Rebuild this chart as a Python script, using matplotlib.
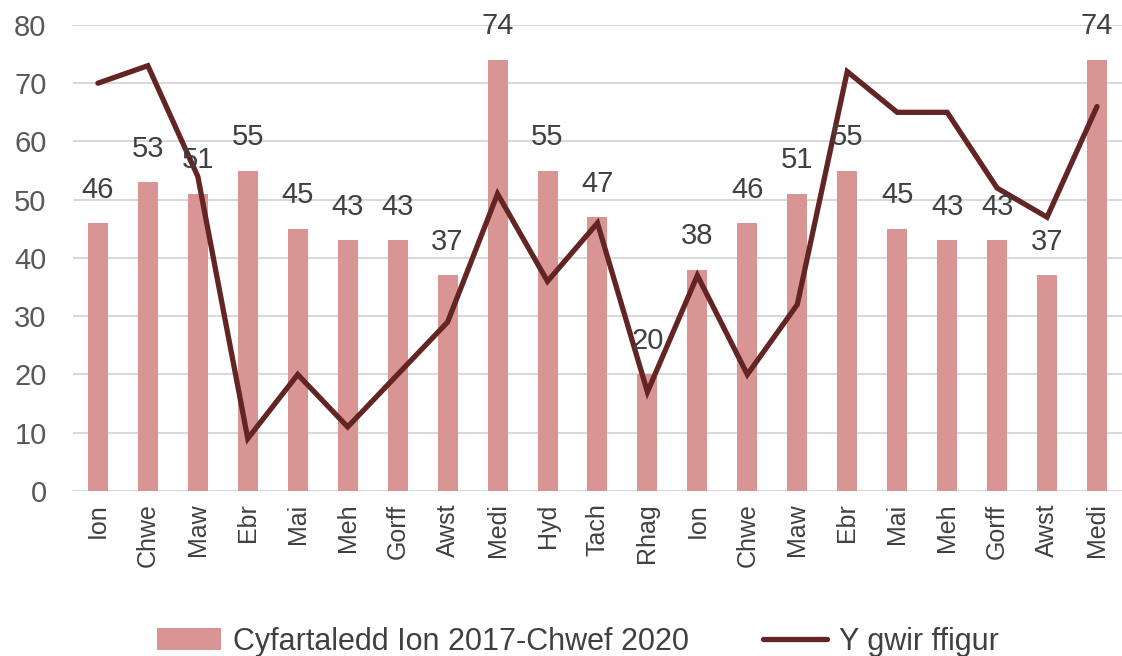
import matplotlib
matplotlib.use("Agg")
import matplotlib.pyplot as plt
from matplotlib.patches import Patch
from matplotlib.lines import Line2D
import numpy as np

plt.rcParams['font.family'] = ['Liberation Sans', 'DejaVu Sans']

categories = ["Ion", "Chwe", "Maw", "Ebr", "Mai", "Meh", "Gorff", "Awst", "Medi", "Hyd",
              "Tach", "Rhag", "Ion", "Chwe", "Maw", "Ebr", "Mai", "Meh", "Gorff", "Awst", "Medi"]
average = [46, 53, 51, 55, 45, 43, 43, 37, 74, 55, 47, 20, 38, 46, 51, 55, 45, 43, 43, 37, 74]
actual = [70, 73, 54, 9, 20, 11, 20, 29, 51, 36, 46, 17, 37, 20, 32, 72, 65, 65, 52, 47, 66]
yticks = [0, 10, 20, 30, 40, 50, 60, 70, 80]

bar_label = "Cyfartaledd Ion 2017-Chwef 2020"
line_label = "Y gwir ffigur"

bar_color = "#d99594"
line_color = "#632523"

fig = plt.figure(figsize=(11.22, 6.56), dpi=100)
ax = fig.add_axes([0.065, 0.2515, 0.935, 0.7105])

x = np.arange(len(categories))
ax.bar(x, average, width=0.4, color=bar_color, zorder=2)
ax.plot(x, actual, color=line_color, lw=3.8, zorder=3,
        solid_joinstyle='miter', solid_capstyle='round')

for xi, v in zip(x, average):
    ax.annotate(str(v), (xi, v), xytext=(0, 14), textcoords="offset points",
                ha="center", va="bottom", fontsize=21, color="#404040", zorder=4)

ax.set_xlim(-0.5, len(categories) - 0.5)
ax.set_ylim(0, 80)
ax.set_yticks(yticks)
ax.set_xticks(x)
ax.set_xticklabels(categories, rotation=90, fontsize=18, color="#404040")
ax.tick_params(axis='y', labelsize=21, labelcolor="#595959", length=0, pad=19)
ax.tick_params(axis='x', length=0, pad=9)
ax.grid(axis='y', color="#d9d9d9", lw=1.5, zorder=0)
ax.set_axisbelow(True)
for s in ax.spines.values():
    s.set_visible(False)

handles = [Patch(facecolor=bar_color, edgecolor='none'),
           Line2D([0], [0], color=line_color, lw=3.8, solid_capstyle='round')]
fig.legend(handles, [bar_label, line_label], loc="center", bbox_to_anchor=(0.515, 0.022),
           ncol=2, frameon=False, fontsize=22, handlelength=2.1, handleheight=0.7,
           columnspacing=2.4, handletextpad=0.4, labelcolor="#404040")

fig.savefig("out.png", dpi=100)
